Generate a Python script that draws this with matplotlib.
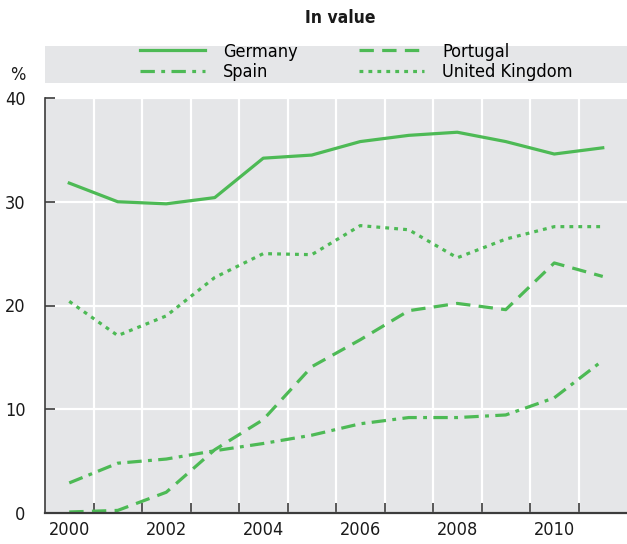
import matplotlib
matplotlib.use('Agg')
from matplotlib import pyplot as plt
from matplotlib.patches import Rectangle

years = list(range(2000, 2012))
germany = [31.8, 30.0, 29.8, 30.4, 34.2, 34.5, 35.8, 36.4, 36.7, 35.8, 34.6, 35.2]
portugal = [0.1, 0.25, 2.0, 6.1, 9.0, 14.1, 16.7, 19.5, 20.2, 19.6, 24.1, 22.8]
spain = [2.9, 4.8, 5.2, 6.0, 6.7, 7.5, 8.6, 9.2, 9.2, 9.45, 11.1, 14.7]
uk = [20.4, 17.1, 19.0, 22.7, 25.0, 24.9, 27.7, 27.3, 24.6, 26.4, 27.6, 27.6]

GREEN = '#4dba55'
BG = '#e5e6e8'
DARK = '#3c3c3c'

plt.rcParams['font.family'] = ['DejaVu Sans']
plt.rcParams['font.stretch'] = 'condensed'

fig = plt.figure(figsize=(6.27, 5.44), dpi=100)
ax = fig.add_axes([45 / 627, 31 / 544, 582 / 627, 415 / 544])
ax.set_facecolor(BG)

x = list(range(len(years)))
lw = 2.3
ax.plot(x, germany, color=GREEN, lw=lw, label='Germany')
ax.plot(x, portugal, color=GREEN, lw=lw, dashes=(4.5, 2.6), label='Portugal')
ax.plot(x, spain, color=GREEN, lw=lw, dashes=(4.5, 2.0, 1.2, 2.0), label='Spain')
ax.plot(x, uk, color=GREEN, lw=lw, dashes=(1.2, 1.6), label='United Kingdom')

ax.set_xlim(-0.5, len(years) - 0.5)
ax.set_ylim(0, 40)
ax.set_xticks(x[::2])
ax.set_xticklabels([str(y) for y in years[::2]])
ax.set_xticks([i + 0.5 for i in x[:-1]], minor=True)
ax.set_yticks([0, 10, 20, 30, 40])

ax.grid(which='minor', axis='x', color='white', lw=1.6)
ax.grid(which='major', axis='y', color='white', lw=1.6)
ax.set_axisbelow(True)

ax.tick_params(axis='x', which='major', length=0, labelsize=13, pad=6, colors='#1a1a1a')
ax.tick_params(axis='x', which='minor', direction='in', length=7, width=1.2, color=DARK)
ax.tick_params(axis='y', direction='in', length=7, width=1.2, color=DARK,
               labelsize=13, pad=14, labelcolor='#1a1a1a')

for side in ['top', 'right']:
    ax.spines[side].set_visible(False)
ax.spines['left'].set_color(DARK)
ax.spines['left'].set_linewidth(1.2)
ax.spines['bottom'].set_color(DARK)
ax.spines['bottom'].set_linewidth(1.6)

# legend band
fig.patches.append(Rectangle((45 / 627, (544 - 83) / 544), 582 / 627, 37 / 544,
                             transform=fig.transFigure, facecolor=BG, edgecolor='none', zorder=0))
handles, labels = ax.get_legend_handles_labels()
order = [0, 2, 1, 3]
fig.legend([handles[i] for i in order], [labels[i] for i in order],
           ncol=2, loc='center', bbox_to_anchor=(356 / 627, (544 - 62) / 544),
           frameon=False, fontsize=13, handlelength=3.6, handletextpad=1.0,
           columnspacing=3.4, labelspacing=0.15, borderpad=0)

fig.text(340 / 627, (544 - 18) / 544, 'In value', ha='center', va='center',
         fontsize=12.5, fontweight='bold', color='#1a1a1a')
fig.text(18 / 627, (544 - 75) / 544, '%', ha='center', va='center', fontsize=13, color='#1a1a1a')

plt.savefig('out.png', dpi=100)
